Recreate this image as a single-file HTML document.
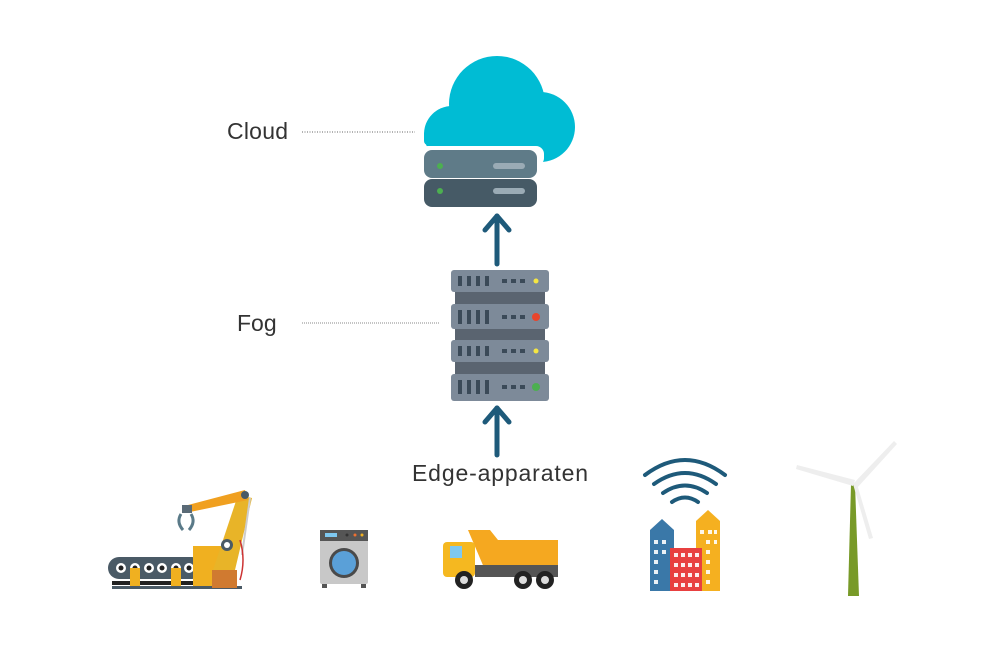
<!DOCTYPE html>
<html><head><style>body{margin:0;background:#fff}svg{display:block}text{font-family:"Liberation Sans",sans-serif;font-weight:300;fill:#333}</style></head>
<body>
<svg width="1000" height="645" viewBox="0 0 1000 645" xmlns="http://www.w3.org/2000/svg">
<rect width="1000" height="645" fill="#fff"/>
<text x="227" y="139" font-size="23" textLength="61">Cloud</text>
<text x="237" y="331" font-size="23">Fog</text>
<text x="412" y="481" font-size="23" textLength="176">Edge-apparaten</text>
<line x1="302" y1="132" x2="415" y2="132" stroke="#666" stroke-width="1" stroke-dasharray="1,1.5"/>
<line x1="302" y1="323" x2="439" y2="323" stroke="#888" stroke-width="1" stroke-dasharray="1,1"/>
<!-- cloud -->
<g fill="#00bcd4">
<circle cx="497" cy="104" r="48"/>
<circle cx="452" cy="134" r="28"/>
<circle cx="540" cy="127" r="35"/>
<rect x="440" y="120" width="110" height="25"/>
<rect x="424" y="130" width="40" height="15" rx="4"/>
</g>
<rect x="420" y="146" width="124" height="20" rx="8" fill="#fff"/>
<rect x="424" y="150" width="113" height="28" rx="8" fill="#5f7b88"/>
<rect x="424" y="179" width="113" height="28" rx="8" fill="#465a66"/>
<circle cx="440" cy="166" r="3" fill="#4caf50"/><circle cx="440" cy="191" r="3" fill="#4caf50"/>
<rect x="493" y="163" width="32" height="6" rx="3" fill="#9aabb5"/>
<rect x="493" y="188" width="32" height="6" rx="3" fill="#9aabb5"/>
<!-- arrows -->
<g stroke="#1e5a7a" stroke-width="5" fill="none" stroke-linecap="round" stroke-linejoin="round">
<line x1="497" y1="264" x2="497" y2="216"/><polyline points="485,230 497,216 509,230"/>
<line x1="497" y1="455" x2="497" y2="408"/><polyline points="485,422 497,408 509,422"/>
</g>
<!-- rack -->
<rect x="455" y="290" width="90" height="100" fill="#5a6470"/>
<g fill="#7d8a99">
<rect x="451" y="270" width="98" height="22" rx="3"/>
<rect x="451" y="304" width="98" height="25" rx="3"/>
<rect x="451" y="340" width="98" height="22" rx="3"/>
<rect x="451" y="374" width="98" height="27" rx="3"/>
</g>
<g fill="#3b4a58">
<rect x="458" y="276" width="4" height="10"/><rect x="467" y="276" width="4" height="10"/><rect x="476" y="276" width="4" height="10"/><rect x="485" y="276" width="4" height="10"/>
<rect x="458" y="310" width="4" height="14"/><rect x="467" y="310" width="4" height="14"/><rect x="476" y="310" width="4" height="14"/><rect x="485" y="310" width="4" height="14"/>
<rect x="458" y="346" width="4" height="10"/><rect x="467" y="346" width="4" height="10"/><rect x="476" y="346" width="4" height="10"/><rect x="485" y="346" width="4" height="10"/>
<rect x="458" y="380" width="4" height="14"/><rect x="467" y="380" width="4" height="14"/><rect x="476" y="380" width="4" height="14"/><rect x="485" y="380" width="4" height="14"/>
<rect x="502" y="279" width="5" height="4"/><rect x="511" y="279" width="5" height="4"/><rect x="520" y="279" width="5" height="4"/>
<rect x="502" y="315" width="5" height="4"/><rect x="511" y="315" width="5" height="4"/><rect x="520" y="315" width="5" height="4"/>
<rect x="502" y="349" width="5" height="4"/><rect x="511" y="349" width="5" height="4"/><rect x="520" y="349" width="5" height="4"/>
<rect x="502" y="385" width="5" height="4"/><rect x="511" y="385" width="5" height="4"/><rect x="520" y="385" width="5" height="4"/>
</g>
<circle cx="536" cy="281" r="2.5" fill="#f5e642"/>
<circle cx="536" cy="317" r="4" fill="#e8452c"/>
<circle cx="536" cy="351" r="2.5" fill="#f5e642"/>
<circle cx="536" cy="387" r="4" fill="#4caf50"/>
<!-- conveyor + robot -->
<rect x="108" y="557" width="95" height="22" rx="11" fill="#4a5a66"/>
<g fill="#fff"><circle cx="121" cy="568" r="5"/><circle cx="135" cy="568" r="5"/><circle cx="149" cy="568" r="5"/><circle cx="162" cy="568" r="5"/><circle cx="176" cy="568" r="5"/><circle cx="189" cy="568" r="5"/></g>
<g fill="#222"><circle cx="121" cy="568" r="2.5"/><circle cx="135" cy="568" r="2.5"/><circle cx="149" cy="568" r="2.5"/><circle cx="162" cy="568" r="2.5"/><circle cx="176" cy="568" r="2.5"/><circle cx="189" cy="568" r="2.5"/></g>
<rect x="112" y="581" width="95" height="4" fill="#222"/>
<rect x="112" y="586" width="130" height="3" fill="#4a5a66"/>
<rect x="130" y="568" width="10" height="18" fill="#f0b020"/>
<rect x="171" y="568" width="10" height="18" fill="#f0b020"/>
<rect x="193" y="546" width="30" height="40" fill="#f0b020"/>
<rect x="212" y="570" width="25" height="18" fill="#d07a30"/>
<polygon points="213,570 238,495 252,498 235,570" fill="#e8b428"/>
<polygon points="188,505 245,490 248,500 190,512" fill="#f0a020"/>
<circle cx="227" cy="545" r="6" fill="#4a5a66"/><circle cx="227" cy="545" r="3" fill="#fff"/>
<circle cx="245" cy="495" r="4" fill="#4a5a66"/>
<rect x="182" y="505" width="10" height="8" fill="#5a6a76"/>
<path d="M181 514 q-5 8 2 16 M191 514 q5 8 -2 16" stroke="#5a7a88" stroke-width="3" fill="none"/>
<line x1="250" y1="498" x2="242" y2="555" stroke="#ccc" stroke-width="2"/>
<path d="M240 540 q6 20 0 40" stroke="#c33" stroke-width="1.5" fill="none"/>
<!-- washer -->
<rect x="320" y="530" width="48" height="54" rx="2" fill="#c8c8c8"/>
<rect x="320" y="530" width="48" height="11" fill="#555"/>
<rect x="325" y="533" width="12" height="4" fill="#7ec8f0"/>
<circle cx="347" cy="535" r="1.5" fill="#333"/><circle cx="355" cy="535" r="1.5" fill="#f07030"/><circle cx="362" cy="535" r="1.5" fill="#f0b020"/>
<circle cx="344" cy="563" r="15" fill="#4a4a4a"/><circle cx="344" cy="563" r="12" fill="#5aa0d8"/>
<rect x="322" y="584" width="5" height="4" fill="#555"/><rect x="361" y="584" width="5" height="4" fill="#555"/>
<!-- truck -->
<polygon points="468,530 490,530 498,540 558,540 558,570 485,570" fill="#f5a820"/>
<rect x="443" y="542" width="32" height="35" rx="4" fill="#f5b820"/>
<rect x="450" y="546" width="12" height="12" fill="#7ec8f0"/>
<rect x="475" y="565" width="83" height="12" fill="#555"/>
<g fill="#222"><circle cx="464" cy="580" r="9"/><circle cx="523" cy="580" r="9"/><circle cx="545" cy="580" r="9"/></g>
<g fill="#ddd"><circle cx="464" cy="580" r="4"/><circle cx="523" cy="580" r="4"/><circle cx="545" cy="580" r="4"/></g>
<!-- city -->
<g stroke="#1e5a7a" stroke-width="4" fill="none" stroke-linecap="round">
<path d="M645 475 q40 -30 80 0"/><path d="M654 484 q31 -22 62 0"/><path d="M663 493 q22 -15 44 0"/><path d="M672 502 q13 -9 26 0"/>
</g>
<polygon points="650,530 662,519 674,530 674,591 650,591" fill="#3a78a8"/>
<polygon points="696,521 708,510 720,521 720,591 696,591" fill="#f5b020"/>
<rect x="670" y="548" width="32" height="43" fill="#e84040"/>
<g fill="#fff" opacity="0.9">
<rect x="654" y="540" width="4" height="4"/><rect x="662" y="540" width="4" height="4"/><rect x="654" y="550" width="4" height="4"/><rect x="662" y="550" width="4" height="4"/><rect x="654" y="560" width="4" height="4"/><rect x="654" y="570" width="4" height="4"/><rect x="654" y="580" width="4" height="4"/>
<rect x="700" y="530" width="4" height="4"/><rect x="708" y="530" width="4" height="4"/><rect x="714" y="530" width="3" height="4"/><rect x="706" y="540" width="4" height="4"/><rect x="714" y="540" width="3" height="4"/><rect x="706" y="550" width="4" height="4"/><rect x="706" y="560" width="4" height="4"/><rect x="706" y="570" width="4" height="4"/><rect x="706" y="580" width="4" height="4"/>
<rect x="674" y="553" width="4" height="4"/><rect x="681" y="553" width="4" height="4"/><rect x="688" y="553" width="4" height="4"/><rect x="695" y="553" width="4" height="4"/>
<rect x="674" y="563" width="4" height="4"/><rect x="681" y="563" width="4" height="4"/><rect x="688" y="563" width="4" height="4"/><rect x="695" y="563" width="4" height="4"/>
<rect x="674" y="573" width="4" height="4"/><rect x="681" y="573" width="4" height="4"/><rect x="688" y="573" width="4" height="4"/><rect x="695" y="573" width="4" height="4"/>
<rect x="674" y="583" width="4" height="4"/><rect x="681" y="583" width="4" height="4"/><rect x="688" y="583" width="4" height="4"/><rect x="695" y="583" width="4" height="4"/>
</g>
<!-- wind turbine -->
<polygon points="851,484 855,484 859,596 848,596" fill="#789a28"/>
<g fill="#eee">
<polygon points="853,484 894,441 897,444 857,488"/>
<polygon points="853,486 796,469 797,465 855,480"/>
<polygon points="853,484 857,484 873,538 869,539"/>
</g>
</svg>
</body></html>
